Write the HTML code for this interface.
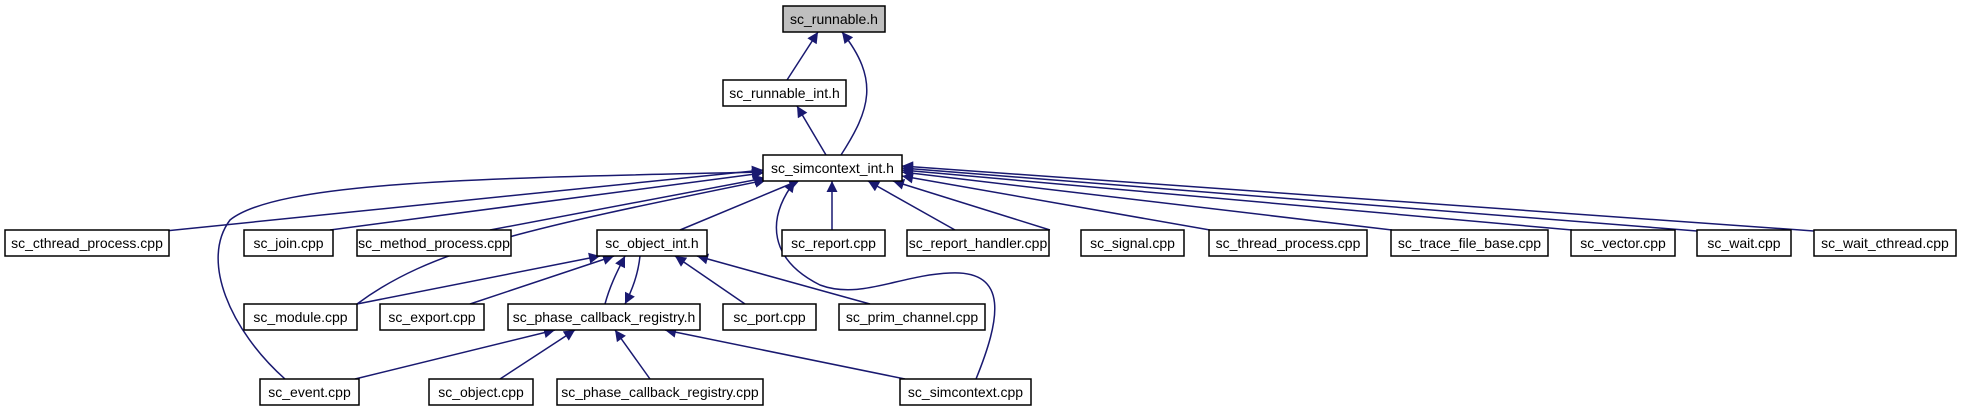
<!DOCTYPE html>
<html><head><meta charset="utf-8"><style>
html,body{margin:0;padding:0;background:#fff;}
svg{display:block;}
text{font-family:"Liberation Sans",Arial,sans-serif;font-size:14px;fill:#000;}
</style></head><body>
<svg width="1963" height="411" viewBox="0 0 1963 411" xmlns="http://www.w3.org/2000/svg">
<defs>
<marker id="a" viewBox="0 0 10 10" refX="10" refY="5" markerWidth="14" markerHeight="11" markerUnits="userSpaceOnUse" orient="auto">
<path d="M0,0 L10,5 L0,10 z" fill="#191970"/>
</marker>
</defs>
<g fill="none" stroke="#191970" stroke-width="1.5" marker-end="url(#a)">
<path d="M787,80 L818,32"/>
<path d="M841,155 C870,110 880,80 842,32"/>
<path d="M826,155 L797,106"/>
<path d="M165,231 L763,170"/>
<path d="M330,230 L763,173"/>
<path d="M490,230 L765,178"/>
<path d="M680,230 L800,180"/>
<path d="M832,230 L832,181"/>
<path d="M955,230 L868,181"/>
<path d="M1050,230 L893,181"/>
<path d="M1210,230 L902,176"/>
<path d="M1392,230 L902,172"/>
<path d="M1572,230 L902,170"/>
<path d="M1697,231 L902,168"/>
<path d="M1814,231 L902,166"/>
<path d="M357,304 C430,250 520,230 766,180"/>
<path d="M285,379 C230,330 200,260 230,220 C280,180 500,178 763,172"/>
<path d="M976,379 C1000,320 1010,270 950,273 C900,275 860,300 820,285 C770,260 765,220 795,181"/>
<path d="M357,304 L600,256"/>
<path d="M470,304 L614,256"/>
<path d="M605,304 C610,285 618,270 625,256"/>
<path d="M640,256 C638,275 632,290 625,304"/>
<path d="M745,304 L675,256"/>
<path d="M870,304 L697,256"/>
<path d="M355,379 L555,330"/>
<path d="M500,379 L575,330"/>
<path d="M650,379 L615,330"/>
<path d="M905,379 L665,330"/>
</g>
<g stroke="#000" stroke-width="1.5" fill="#fff">
<rect x="783" y="6" width="102" height="26" fill="#bfbfbf"/>
<rect x="723" y="80" width="123" height="26"/>
<rect x="763" y="155" width="139" height="26"/>
<rect x="5" y="230" width="164" height="26"/>
<rect x="244" y="230" width="89" height="26"/>
<rect x="357" y="230" width="154" height="26"/>
<rect x="597" y="230" width="110" height="26"/>
<rect x="782" y="230" width="103" height="26"/>
<rect x="907" y="230" width="142" height="26"/>
<rect x="1081" y="230" width="103" height="26"/>
<rect x="1209" y="230" width="158" height="26"/>
<rect x="1391" y="230" width="157" height="26"/>
<rect x="1571" y="230" width="104" height="26"/>
<rect x="1697" y="230" width="94" height="26"/>
<rect x="1814" y="230" width="142" height="26"/>
<rect x="244" y="304" width="113" height="26"/>
<rect x="380" y="304" width="104" height="26"/>
<rect x="508" y="304" width="192" height="26"/>
<rect x="723" y="304" width="93" height="26"/>
<rect x="839" y="304" width="146" height="26"/>
<rect x="260" y="379" width="99" height="26"/>
<rect x="429" y="379" width="104" height="26"/>
<rect x="557" y="379" width="206" height="26"/>
<rect x="900" y="379" width="131" height="26"/>
</g>
<g text-anchor="middle">
<text x="834" y="24">sc_runnable.h</text>
<text x="784.5" y="98">sc_runnable_int.h</text>
<text x="832.5" y="173">sc_simcontext_int.h</text>
<text x="87" y="248">sc_cthread_process.cpp</text>
<text x="288.5" y="248">sc_join.cpp</text>
<text x="434" y="248">sc_method_process.cpp</text>
<text x="652" y="248">sc_object_int.h</text>
<text x="833.5" y="248">sc_report.cpp</text>
<text x="978" y="248">sc_report_handler.cpp</text>
<text x="1132.5" y="248">sc_signal.cpp</text>
<text x="1288" y="248">sc_thread_process.cpp</text>
<text x="1469.5" y="248">sc_trace_file_base.cpp</text>
<text x="1623" y="248">sc_vector.cpp</text>
<text x="1744" y="248">sc_wait.cpp</text>
<text x="1885" y="248">sc_wait_cthread.cpp</text>
<text x="300.5" y="322">sc_module.cpp</text>
<text x="432" y="322">sc_export.cpp</text>
<text x="604" y="322">sc_phase_callback_registry.h</text>
<text x="769.5" y="322">sc_port.cpp</text>
<text x="912" y="322">sc_prim_channel.cpp</text>
<text x="309.5" y="397">sc_event.cpp</text>
<text x="481" y="397">sc_object.cpp</text>
<text x="660" y="397">sc_phase_callback_registry.cpp</text>
<text x="965.5" y="397">sc_simcontext.cpp</text>
</g>
</svg>
</body></html>
